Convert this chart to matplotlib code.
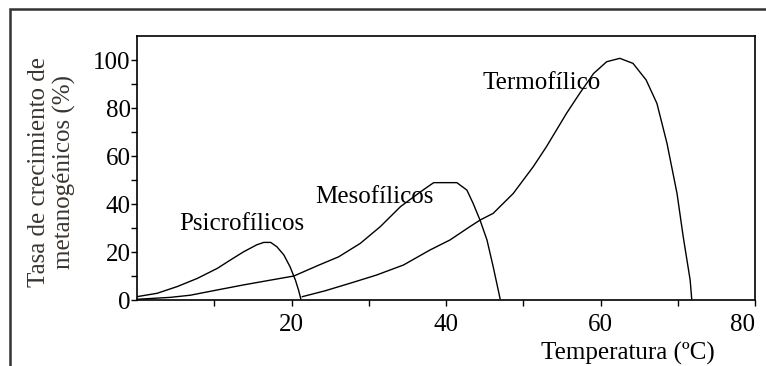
import numpy as np
import matplotlib
matplotlib.use("Agg")
import matplotlib.pyplot as plt
from matplotlib.patches import Rectangle

plt.rcParams['font.family'] = ['Liberation Serif', 'DejaVu Serif']

# curves (temperature in C, growth rate in %)
psych_t = [0, 2.6, 5.2, 7.8, 10.4, 12.1, 13.8, 15.5, 16.4, 17.3, 18.1, 19.0,
           19.8, 20.5, 20.9, 21.2]
psych_v = [1.4, 2.8, 5.6, 9.0, 13.2, 16.7, 20.1, 23.0, 24.0, 24.0, 22.2, 18.8,
           13.9, 8.3, 4.2, 0.5]

meso_t = [0, 4.3, 6.9, 10.4, 13.8, 17.3, 20.3, 23.5, 26.1, 28.9, 31.5, 34.1,
          36.7, 38.4, 41.4, 42.7, 43.5, 44.4, 45.3, 46.1, 47.0]
meso_v = [0.3, 1.1, 2.0, 4.2, 6.3, 8.3, 10.0, 14.5, 18.0, 23.6, 30.6, 38.9,
          45.1, 48.9, 48.9, 45.8, 40.3, 33.3, 25.0, 13.9, 0.5]

termo_t = [21.4, 24.3, 27.6, 31.0, 34.5, 37.9, 40.5, 43.1, 44.4, 46.1, 48.7,
           51.3, 53.0, 55.6, 57.3, 59.1, 60.8, 62.5, 64.2, 65.9, 67.3, 68.6,
           69.9, 70.7, 71.6, 71.8]
termo_v = [1.4, 3.8, 7.0, 10.4, 14.6, 20.8, 25.0, 30.6, 33.3, 36.1, 44.4,
           55.6, 63.9, 77.8, 86.1, 94.4, 99.3, 100.7, 98.6, 91.7, 81.9, 65.3,
           44.4, 26.4, 8.3, 0.5]

labels = ["Psicrofílicos", "Mesofílicos", "Termofílico"]
label_pos = [(13.5, 31.7), (30.7, 43), (52.4, 90.4)]

fig = plt.figure(figsize=(7.66, 3.66), dpi=100)
ax = fig.add_axes([0.1789, 0.1803, 0.8068, 0.7213])

for t, v in [(psych_t, psych_v), (meso_t, meso_v), (termo_t, termo_v)]:
    ax.plot(t, v, color='black', lw=1.0)

for txt, (x, y) in zip(labels, label_pos):
    ax.text(x, y, txt, ha='center', va='center', fontsize=18)

ax.set_xlim(0, 80)
ax.set_ylim(0, 110)
ax.set_xticks([20, 40, 60, 80])
ax.set_xticks([10, 30, 50, 70], minor=True)
ax.set_yticks([0, 20, 40, 60, 80, 100])
ax.set_yticks([10, 30, 50, 70, 90], minor=True)
ax.tick_params(axis='both', which='major', labelsize=18, length=4, width=1)
ax.tick_params(axis='both', which='minor', length=4, width=1)
ax.tick_params(axis='x', pad=6)
ax.tick_params(axis='y', pad=0.5)
for s in ax.spines.values():
    s.set_linewidth(1.2)
# last x label sits inside the image edge
ax.get_xticklabels()[-1].set_ha('right')

fig.text(0.82, 0.035, "Temperatura (ºC)", ha='center', va='center', fontsize=18)
fig.text(0.068, 0.53, "Tasa de crecimiento de\nmetanogénicos (%)", rotation=90,
         ha='center', va='center', fontsize=18, color='#3a3530', linespacing=1.15)

# outer frame, cut by the image edges
fig.patches.append(Rectangle((0.013, -0.1), 1.1, 1.075, transform=fig.transFigure,
                             fill=False, edgecolor='#333333', lw=1.8))

fig.savefig("out.png", dpi=100)
